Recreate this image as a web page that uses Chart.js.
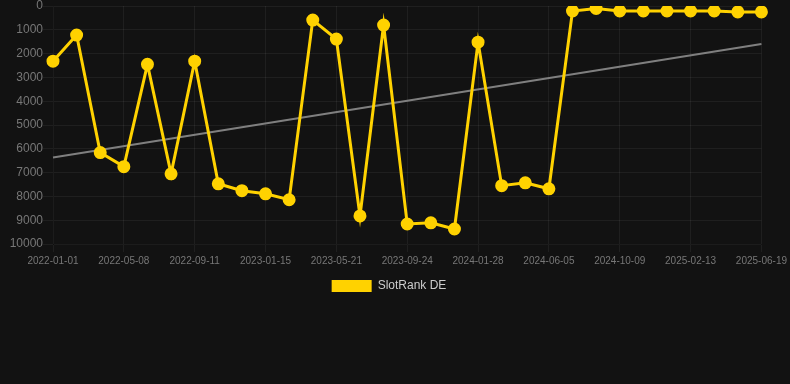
<!DOCTYPE html>
<html>
<head>
<meta charset="utf-8">
<script src="https://cdn.jsdelivr.net/npm/chart.js@4"></script>
<style>
  html, body { margin: 0; padding: 0; background: #121212; }
  #wrap { width: 790px; height: 384px; }
</style>
</head>
<body>
<div id="wrap"><canvas id="chart"></canvas></div>
<script>
const labels = [
    '2022-01-01', '2022-02-12', '2022-03-26', '2022-05-08', '2022-06-19', '2022-07-31',
    '2022-09-11', '2022-10-23', '2022-12-04', '2023-01-15', '2023-02-26', '2023-04-09',
    '2023-05-21', '2023-07-02', '2023-08-13', '2023-09-24', '2023-11-05', '2023-12-17',
    '2024-01-28', '2024-03-11', '2024-04-23', '2024-06-05', '2024-07-17', '2024-08-28',
    '2024-10-09', '2024-11-20', '2025-01-01', '2025-02-13', '2025-03-27', '2025-05-08',
    '2025-06-19'
];
const rankDE = [
    2320, 1220, 6160, 6750, 2450, 7050, 2320, 7470, 7760, 7890, 8140, 590,
    1390, 8820, 800, 9160, 9110, 9370, 1520, 7550, 7430, 7680, 210, 105,
    210, 210, 210, 210, 210, 250, 250
];
// trend line: only the two ends are set, the gap is spanned
const trend = labels.map(() => null);
trend[0] = 6370;
trend[labels.length - 1] = 1600;
const yTicks = [0, 1000, 2000, 3000, 4000, 5000, 6000, 7000, 8000, 9000, 10000];

Chart.defaults.font.family = "'Liberation Sans', Arial, sans-serif";

const gold = '#ffd200';
const gridColor = 'rgba(255,255,255,0.06)';

const config = {
    type: 'line',
    data: {
        labels: labels,
        datasets: [
            {
                label: 'SlotRank DE',
                data: rankDE,
                borderColor: gold,
                backgroundColor: gold,
                borderWidth: 3,
                pointRadius: 5,
                pointHoverRadius: 6,
                pointBackgroundColor: gold,
                pointBorderColor: gold,
                tension: 0,
            },
            {
                label: 'trend',
                data: trend,
                borderColor: 'rgba(140,140,140,0.9)',
                borderWidth: 2,
                pointRadius: 0,
                spanGaps: true,
                fill: false,
            }
        ]
    },
    options: {
        responsive: true,
        maintainAspectRatio: false,
        animation: false,
        layout: { autoPadding: false, padding: { bottom: 82, right: 12 } },
        plugins: {
            legend: {
                position: 'bottom',
                labels: {
                    color: '#cccccc',
                    font: { size: 12 },
                    boxWidth: 40,
                    boxHeight: 12,
                    generateLabels: (chart) => {
                        const items = Chart.defaults.plugins.legend.labels.generateLabels(chart);
                        return items
                            .filter((it) => it.text !== 'trend')
                            .map((it) => Object.assign(it, { lineWidth: 0 }));
                    },
                },
            },
            tooltip: { enabled: false },
        },
        scales: {
            x: {
                grid: {
                    color: (ctx) => (ctx.index % 3 === 0 ? gridColor : 'rgba(0,0,0,0)'),
                },
                ticks: {
                    color: '#777777',
                    font: { size: 10 },
                    autoSkip: false,
                    maxRotation: 0,
                    callback: function (value, index) {
                        return index % 3 === 0 ? labels[index] : '';
                    },
                },
            },
            y: {
                reverse: true,
                min: 0,
                max: 10000,
                afterBuildTicks: (axis) => {
                    axis.ticks = yTicks.map((v) => ({ value: v }));
                },
                afterFit: (axis) => {
                    axis.width = 53;
                },
                grid: { color: gridColor, tickLength: 10 },
                ticks: {
                    color: '#777777',
                    padding: 0,
                    font: { size: 12, lineHeight: 1 },
                    callback: (v) => String(v),
                },
            },
        },
    },
};

new Chart(document.getElementById('chart').getContext('2d'), config);
</script>
</body>
</html>
